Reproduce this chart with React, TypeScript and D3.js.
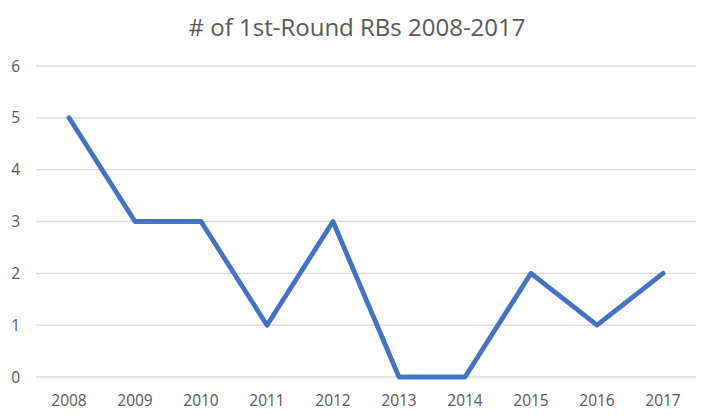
import * as d3 from 'd3';
import { useEffect, useRef } from 'react';

const years = ['2008', '2009', '2010', '2011', '2012', '2013', '2014', '2015', '2016', '2017'];
const counts = [5, 3, 3, 1, 3, 0, 0, 2, 1, 2];
const yTicks = [0, 1, 2, 3, 4, 5, 6];
const title = '# of 1st-Round RBs 2008-2017';

const W = 712;
const H = 418;

export default function App() {
    const svgRef = useRef<SVGSVGElement | null>(null);

    useEffect(() => {
        if (!svgRef.current) return;
        const svg = d3.select(svgRef.current);
        svg.selectAll('*').remove();

        const margin = { top: 66, right: 16, bottom: 41, left: 36 };
        const x = d3.scaleBand().domain(years).range([margin.left, W - margin.right]);
        const y = d3.scaleLinear().domain([0, 6]).range([H - margin.bottom, margin.top]);

        svg.append('rect').attr('width', W).attr('height', H).attr('fill', '#ffffff');

        // title
        svg.append('text')
            .attr('x', W / 2 + 1)
            .attr('y', 36)
            .attr('text-anchor', 'middle')
            .attr('font-family', '"Open Sans", sans-serif')
            .attr('font-size', 24)
            .attr('fill', '#595959')
            .text(title);

        // gridlines
        svg.append('g')
            .selectAll('line')
            .data(yTicks)
            .join('line')
            .attr('x1', margin.left)
            .attr('x2', W - margin.right)
            .attr('y1', (d) => y(d))
            .attr('y2', (d) => y(d))
            .attr('stroke', '#d9d9d9')
            .attr('stroke-width', 1.3);

        // y labels
        svg.append('g')
            .selectAll('text')
            .data(yTicks)
            .join('text')
            .attr('x', 20)
            .attr('y', (d) => y(d))
            .attr('dy', '0.36em')
            .attr('text-anchor', 'end')
            .attr('font-family', '"Open Sans", sans-serif')
            .attr('font-size', 15.5)
            .attr('fill', '#595959')
            .text((d) => String(d));

        // x labels
        svg.append('g')
            .selectAll('text')
            .data(years)
            .join('text')
            .attr('x', (d) => (x(d) ?? 0) + x.bandwidth() / 2)
            .attr('y', H - margin.bottom + 29)
            .attr('text-anchor', 'middle')
            .attr('font-family', '"Open Sans", sans-serif')
            .attr('font-size', 15.5)
            .attr('fill', '#595959')
            .text((d) => d);

        const line = d3
            .line<number>()
            .x((_, i) => (x(years[i]) ?? 0) + x.bandwidth() / 2)
            .y((d) => y(d));

        svg.append('path')
            .datum(counts)
            .attr('d', line)
            .attr('fill', 'none')
            .attr('stroke', '#4472c4')
            .attr('stroke-width', 4.8)
            .attr('stroke-linejoin', 'round')
            .attr('stroke-linecap', 'round');
    }, []);

    return (
        <div style={{ width: W, height: H, margin: -8 }}>
            <svg ref={svgRef} width={W} height={H} style={{ display: 'block' }} />
        </div>
    );
}
